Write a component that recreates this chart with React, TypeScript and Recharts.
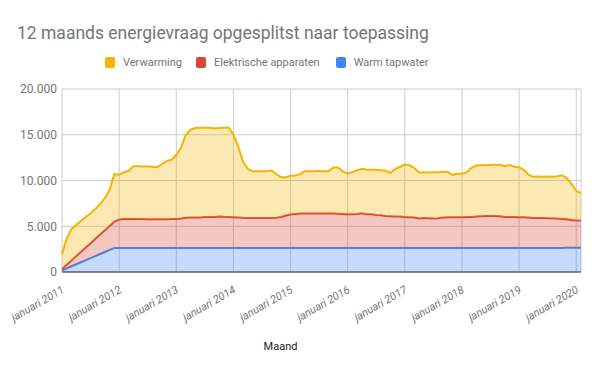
import { AreaChart, Area, XAxis, YAxis, CartesianGrid } from "recharts"

const maandNamen = ["januari", "februari", "maart", "april", "mei", "juni", "juli", "augustus", "september", "oktober", "november", "december"]
const startJaar = 2011

// 12-maands waarden per maand, jan 2011 t/m feb 2020
const warmTapwater = [
  180, 400, 625, 850, 1070, 1295, 1520, 1740, 1965, 2190, 2410, 2630,
  2630, 2630, 2630, 2630, 2630, 2630, 2630, 2630, 2630, 2630, 2630, 2630,
  2630, 2630, 2630, 2630, 2630, 2630, 2630, 2630, 2630, 2630, 2630, 2630,
  2630, 2630, 2630, 2630, 2630, 2630, 2630, 2630, 2630, 2630, 2630, 2630,
  2630, 2630, 2630, 2630, 2630, 2630, 2630, 2630, 2630, 2630, 2630, 2630,
  2630, 2630, 2630, 2630, 2630, 2630, 2630, 2630, 2630, 2630, 2630, 2630,
  2630, 2630, 2630, 2630, 2630, 2630, 2630, 2630, 2630, 2630, 2630, 2630,
  2630, 2630, 2630, 2630, 2630, 2630, 2630, 2630, 2630, 2630, 2630, 2630,
  2630, 2630, 2630, 2630, 2630, 2630, 2630, 2630, 2630, 2630, 2660, 2660,
  2660, 2660,
]

const elektrischeApparaten = [
  150, 400, 645, 890, 1140, 1385, 1630, 1890, 2135, 2380, 2630, 2880,
  3100, 3150, 3170, 3170, 3170, 3160, 3140, 3140, 3130, 3130, 3140, 3150,
  3170, 3210, 3290, 3320, 3330, 3330, 3370, 3390, 3390, 3430, 3400, 3390,
  3360, 3320, 3290, 3280, 3270, 3270, 3270, 3280, 3280, 3300, 3390, 3540,
  3650, 3720, 3750, 3760, 3760, 3770, 3760, 3760, 3760, 3750, 3740, 3720,
  3670, 3670, 3700, 3790, 3680, 3680, 3610, 3570, 3500, 3460, 3430, 3430,
  3390, 3360, 3320, 3210, 3280, 3250, 3210, 3250, 3320, 3360, 3340, 3360,
  3360, 3370, 3390, 3430, 3460, 3500, 3500, 3500, 3460, 3390, 3390, 3390,
  3360, 3360, 3320, 3280, 3280, 3280, 3250, 3250, 3210, 3170, 3110, 3030,
  2960, 2960,
]

const verwarming = [
  1620, 2890, 3440, 3410, 3370, 3340, 3270, 3270, 3310, 3500, 3940, 5180,
  4890, 5130, 5260, 5770, 5770, 5740, 5760, 5730, 5700, 6030, 6380, 6480,
  7010, 7770, 9080, 9600, 9770, 9810, 9770, 9750, 9670, 9670, 9740, 9780,
  9010, 7770, 6160, 5370, 5120, 5120, 5120, 5110, 5190, 4760, 4340, 4190,
  4230, 4200, 4310, 4630, 4630, 4620, 4670, 4630, 4630, 5040, 5050, 4640,
  4470, 4610, 4800, 4860, 4860, 4860, 4930, 4930, 4930, 4750, 5220, 5440,
  5730, 5690, 5400, 5040, 5000, 5000, 5070, 5030, 5000, 4960, 4650, 4740,
  4740, 4880, 5370, 5580, 5590, 5550, 5590, 5590, 5630, 5550, 5660, 5480,
  5470, 5180, 4670, 4490, 4530, 4490, 4560, 4520, 4630, 4780, 4490, 3950,
  3250, 2990,
]

const yTicks = [0, 5000, 10000, 15000, 20000]

const maanden = warmTapwater.map((_, i) => `${maandNamen[i % 12]} ${startJaar + Math.floor(i / 12)}`)
const jaarTicks = maanden.map((_, i) => i).filter((i) => i % 12 === 0)

const data = maanden.map((maand, i) => ({
  idx: i,
  maand,
  warm: warmTapwater[i],
  elek: elektrischeApparaten[i],
  verw: verwarming[i],
}))

const series = [
  { key: "verw", name: "Verwarming", color: "#f4b400", gap: 14 },
  { key: "elek", name: "Elektrische apparaten", color: "#db4437", gap: 16 },
  { key: "warm", name: "Warm tapwater", color: "#4285f4", gap: 0 },
]

const font = "Roboto, Arial, sans-serif"

function formatNl(v: number) {
  return String(v).replace(/\B(?=(\d{3})+(?!\d))/g, ".")
}

function MaandTick({ x, y, payload }: any) {
  return (
    <g transform={`translate(${x + 3},${y + 12}) rotate(-30)`}>
      <text x={0} y={0} textAnchor="end" fill="#757575" fontSize={11} fontStyle="italic" fontFamily={font}>
        {maanden[payload.value]}
      </text>
    </g>
  )
}

function Legenda() {
  return (
    <div
      style={{
        position: "absolute",
        left: 105,
        top: 56,
        display: "flex",
        alignItems: "center",
        fontFamily: font,
        fontSize: 11,
        lineHeight: "13px",
        color: "#757575",
        whiteSpace: "nowrap",
      }}
    >
      {series.map((s) => (
        <div key={s.key} style={{ display: "flex", alignItems: "center", marginRight: s.gap }}>
          <span style={{ width: 10, height: 11, background: s.color, borderRadius: 2, marginRight: 8, display: "inline-block" }} />
          <span>{s.name}</span>
        </div>
      ))}
    </div>
  )
}

export default function App() {
  return (
    <div style={{ position: "absolute", left: 0, top: 0, width: 600, height: 371, background: "#fff" }}>
      <div
        style={{
          position: "absolute",
          left: 17,
          top: 23,
          fontFamily: font,
          fontSize: 17.5,
          lineHeight: "20px",
          color: "#757575",
          whiteSpace: "nowrap",
        }}
      >
        12 maands energievraag opgesplitst naar toepassing
      </div>
      <Legenda />
      <AreaChart width={600} height={371} data={data} margin={{ top: 89, right: 19, bottom: 19, left: 12 }}>
        <CartesianGrid stroke="#cccccc" strokeWidth={1} />
        <XAxis
          type="number"
          dataKey="idx"
          domain={[0, maanden.length - 1]}
          ticks={jaarTicks}
          interval={0}
          height={80}
          tickLine={false}
          axisLine={{ stroke: "#333333", strokeWidth: 1 }}
          tick={<MaandTick />}
          label={{ value: "Maand", position: "insideBottom", offset: 2, dx: -41, fill: "#222222", fontSize: 11, fontFamily: font }}
        />
        <YAxis
          domain={[0, 20000]}
          ticks={yTicks}
          width={50}
          axisLine={false}
          tickLine={false}
          tickSize={3}
          tickMargin={2}
          tickFormatter={formatNl}
          tick={{ fill: "#757575", fontSize: 12, fontFamily: font }}
        />
        <Area
          type="linear"
          dataKey="warm"
          name="Warm tapwater"
          stackId="1"
          stroke="#4285f4"
          strokeWidth={2}
          fill="#4285f4"
          fillOpacity={0.3}
          isAnimationActive={false}
        />
        <Area
          type="linear"
          dataKey="elek"
          name="Elektrische apparaten"
          stackId="1"
          stroke="#db4437"
          strokeWidth={2}
          fill="#db4437"
          fillOpacity={0.3}
          isAnimationActive={false}
        />
        <Area
          type="linear"
          dataKey="verw"
          name="Verwarming"
          stackId="1"
          stroke="#f4b400"
          strokeWidth={2}
          fill="#f4b400"
          fillOpacity={0.3}
          isAnimationActive={false}
        />
      </AreaChart>
    </div>
  )
}
